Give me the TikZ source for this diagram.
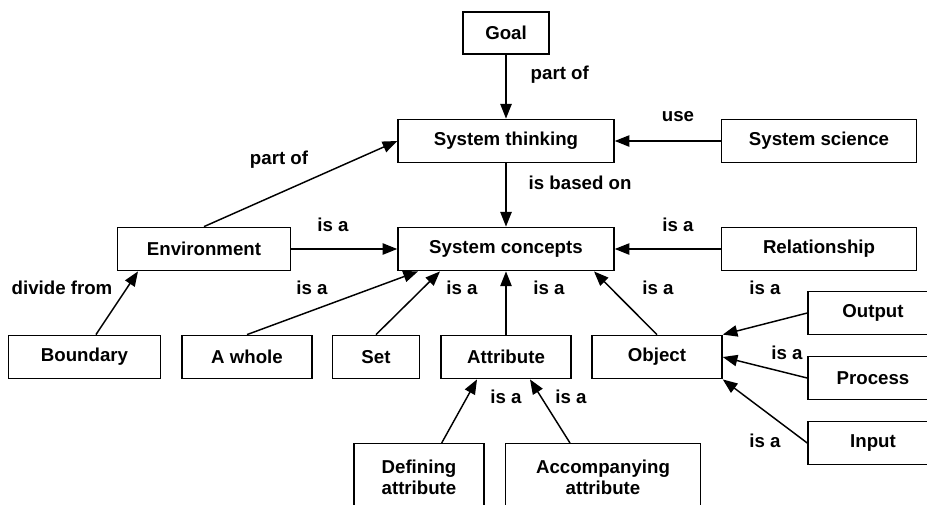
\documentclass[tikz,border=0pt]{standalone}
\usepackage{fontspec}
\setmainfont{Liberation Sans}
\usetikzlibrary{positioning,arrows.meta}

\begin{document}
\begin{tikzpicture}[x=0.75pt, y=-0.75pt, >={Triangle[length=11pt,width=8.5pt]}, line width=1.1pt,
    concept/.style={draw, minimum height=32.5pt, inner sep=2pt, font=\bfseries\fontsize{14}{16}\selectfont},
    rel/.style={inner sep=0pt, font=\bfseries\fontsize{14}{16}\selectfont}]

    \clip (0,0) rectangle (927,504);

    % Top part
    \node[concept,minimum width=64.5pt,minimum height=31.5pt] at (506,33) (goal) {Goal};
    \node[concept,minimum width=162pt] at (506,141) (systhink) {System thinking};
    \node[concept,minimum width=146pt] at (819,141) (sysscience) {System science};
    \node[concept,minimum width=162pt] at (506,249) (sysconcepts) {System concepts};
    \node[concept,minimum width=146pt] at (819,249) (relationship) {Relationship};
    \node[concept,minimum width=130pt] at (204,249) (environment) {Environment};

    % Middle row
    \node[concept,minimum width=114pt] at (84.5,357) (boundary) {Boundary};
    \node[concept,minimum width=97.5pt] at (247,357) (awhole) {A whole};
    \node[concept,minimum width=65pt] at (376,357) (set) {Set};
    \node[concept,minimum width=97.5pt] at (506,357) (attribute) {Attribute};
    \node[concept,minimum width=97.5pt] at (657,357) (object) {Object};

    % Right column
    \node[concept,minimum width=97.5pt] at (873,313) (output) {Output};
    \node[concept,minimum width=97.5pt] at (873,378) (process) {Process};
    \node[concept,minimum width=97.5pt] at (873,443) (input) {Input};

    % Bottom row
    \node[concept,minimum width=97.5pt,minimum height=50pt,align=center,anchor=north] at (419,443) (defining) {Defining\\attribute};
    \node[concept,minimum width=146pt,minimum height=50pt,align=center,anchor=north] at (603,443) (accompanying) {Accompanying\\attribute};

    % Links
    \draw[->] (goal) -- (systhink);
    \draw[->] (sysscience) -- (systhink);
    \draw[->] (systhink) -- (sysconcepts);
    \draw[->] (relationship) -- (sysconcepts);
    \draw[->] (environment.north) -- (systhink.west);
    \draw[->] (environment) -- (sysconcepts);
    \draw[->] ([xshift=8.6pt]boundary.north) -- ([xshift=-49.5pt]environment.south);
    \draw[->] (awhole.north) -- ([xshift=-66pt]sysconcepts.south);
    \draw[->] (set.north) -- ([xshift=-49.5pt]sysconcepts.south);
    \draw[->] (attribute) -- (sysconcepts);
    \draw[->] (object.north) -- ([xshift=66pt]sysconcepts.south);
    \draw[->] (output.west) -- (object.north east);
    \draw[->] (process.west) -- (object.east);
    \draw[->] (input.west) -- (object.south east);
    \draw[->] ([xshift=17pt]defining.north) -- ([xshift=-21.75pt]attribute.south);
    \draw[->] ([xshift=-24.75pt]accompanying.north) -- ([xshift=18pt]attribute.south);

    % Link labels
    \node[rel,anchor=west] at (530,75) (lpart1) {part of};
    \node[rel] at (678,117) (luse) {use};
    \node[rel,anchor=west] at (528,183) (lbased) {is based on};
    \node[rel] at (678,225) (lrel) {is a};
    \node[rel] at (279,160) (lpart2) {part of};
    \node[rel] at (333,225) (lenv) {is a};
    \node[rel] at (62,288) (ldivide) {divide from};
    \node[rel] at (312,288) (lwhole) {is a};
    \node[rel] at (462,288) (lset) {is a};
    \node[rel] at (549,288) (lattr) {is a};
    \node[rel] at (658,288) (lobj) {is a};
    \node[rel] at (765,288) (lout) {is a};
    \node[rel] at (787,353) (lproc) {is a};
    \node[rel] at (765,441) (lin) {is a};
    \node[rel] at (506,397) (ldef) {is a};
    \node[rel] at (571,397) (lacc) {is a};

\end{tikzpicture}
\end{document}
